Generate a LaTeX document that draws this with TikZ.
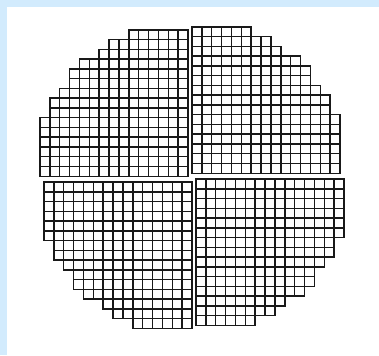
\documentclass[tikz,border=0pt]{standalone}
\definecolor{bgblue}{HTML}{D2EBFD}
\begin{document}
\begin{tikzpicture}[x=1pt,y=-1pt, cell/.style={draw=black!90, line width=1.5pt}]
\fill[white] (0,0) rectangle (379,355);
\fill[bgblue] (0,0) rectangle (379,7);
\fill[bgblue] (0,0) rectangle (7,355);
\useasboundingbox (0,0) rectangle (379,355);
\def\sx{9.87}
\def\sy{9.75}
\foreach \r/\s in {0/9,1/7,2/6,3/4,4/3,5/3,6/2,7/1,8/1,9/0,10/0,11/0,12/0,13/0,14/0}{
  \pgfmathtruncatemacro\e{14-\s}
  \pgfmathtruncatemacro\rb{14-\r}
  % top-left quadrant
  \foreach \c in {\s,...,14}{
    \draw[cell] ({40+\c*\sx},{30+\r*\sy}) rectangle ++(\sx,\sy);
  }
  % top-right quadrant
  \foreach \c in {0,...,\e}{
    \draw[cell] ({192+\c*\sx},{27+\r*\sy}) rectangle ++(\sx,\sy);
  }
  % bottom-left quadrant
  \foreach \c in {\s,...,14}{
    \draw[cell] ({44+\c*\sx},{182+\rb*\sy}) rectangle ++(\sx,\sy);
  }
  % bottom-right quadrant
  \foreach \c in {0,...,\e}{
    \draw[cell] ({196+\c*\sx},{179+\rb*\sy}) rectangle ++(\sx,\sy);
  }
}
\end{tikzpicture}
\end{document}
